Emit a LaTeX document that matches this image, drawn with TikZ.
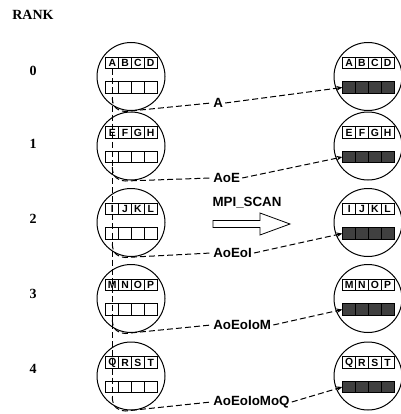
\documentclass[tikz,border=0pt]{standalone}
\usepackage{fontspec}
\setmainfont{Liberation Serif}
\setsansfont{Liberation Sans}
\usetikzlibrary{arrows.meta}
\definecolor{cellfill}{RGB}{64,64,64}

\begin{document}
\begin{tikzpicture}[x=0.75pt,y=-0.75pt,
  ring/.style={draw, circle, minimum size=51pt, inner sep=0pt, line width=0.75pt},
  cell/.style={draw, line width=0.65pt, fill=white, minimum width=9.6pt, minimum height=8.8pt,
    inner sep=0pt, font=\sffamily\bfseries\fontsize{7.8}{7.8}\selectfont},
  darkcell/.style={cell, fill=cellfill},
  ranklbl/.style={font=\rmfamily\bfseries\fontsize{10.5}{12}\selectfont, inner sep=0pt},
  stagelbl/.style={font=\sffamily\bfseries\fontsize{10}{12}\selectfont, inner sep=1.5pt, anchor=west},
  link/.style={dash pattern=on 4.5pt off 2.3pt, line width=0.75pt},
  sendlink/.style={link, -{Stealth[length=4.5pt,width=3.5pt]}}
]
\useasboundingbox (0,0) rectangle (400,414);

\node[ranklbl] (rank) at (33,15) {RANK};

% one row per process: centre height, rank label height, stage label height, letters, partial result
\foreach \i/\c/\ry/\ly/\la/\lb/\lc/\ld/\res in {
    0/76.5/71/103/A/B/C/D/A,
    1/146/144/178/E/F/G/H/AoE,
    2/222.5/219/253/I/J/K/L/AoEoI,
    3/298.5/294/325/M/N/O/P/AoEoIoM,
    4/376/369/402/Q/R/S/T/AoEoIoMoQ} {
  \node[ranklbl] (rk\i) at (33,\ry) {\i};
  % input process
  \node[ring] (lc\i) at (131,\c) {};
  \node[cell] (lt\i-1) at (112.3,\c-13.5) {\la};
  \node[cell] (lt\i-2) at (125.1,\c-13.5) {\lb};
  \node[cell] (lt\i-3) at (137.9,\c-13.5) {\lc};
  \node[cell] (lt\i-4) at (150.7,\c-13.5) {\ld};
  \node[cell] (lb\i-1) at (112.3,\c+11) {};
  \node[cell] (lb\i-2) at (125.1,\c+11) {};
  \node[cell] (lb\i-3) at (137.9,\c+11) {};
  \node[cell] (lb\i-4) at (150.7,\c+11) {};
  % output process
  \node[ring] (rc\i) at (368,\c) {};
  \node[cell] (rt\i-1) at (349.2,\c-13.5) {\la};
  \node[cell] (rt\i-2) at (362,\c-13.5) {\lb};
  \node[cell] (rt\i-3) at (374.8,\c-13.5) {\lc};
  \node[cell] (rt\i-4) at (387.6,\c-13.5) {\ld};
  \node[darkcell] (rb\i-1) at (349.2,\c+11) {};
  \node[darkcell] (rb\i-2) at (362,\c+11) {};
  \node[darkcell] (rb\i-3) at (374.8,\c+11) {};
  \node[darkcell] (rb\i-4) at (387.6,\c+11) {};
  % partial result
  \node[stagelbl] (res\i) at (211,\ly) {\res};
  \coordinate (s\i) at (112.3,\c+21);
}

% running prefix chain down the first element column
\draw[link] (lt0-1.south) -- (s4);

\foreach \i in {0,...,4} {
  \draw[link] (s\i) .. controls +(0,10) and +(-7,0) .. ++(13,14) -- (res\i.west);
  \draw[sendlink] (res\i.east) -- (rb\i-1.west);
}

% operation arrow
\node[font=\sffamily\bfseries\fontsize{10}{12}\selectfont, inner sep=0pt] (scan) at (247,203) {MPI\_SCAN};
\draw[line width=0.6pt, fill=white] (213,220.5) -- (260,220.5) -- (260,213) -- (290,224)
  -- (260,235) -- (260,227.5) -- (213,227.5) -- cycle;
\end{tikzpicture}
\end{document}
